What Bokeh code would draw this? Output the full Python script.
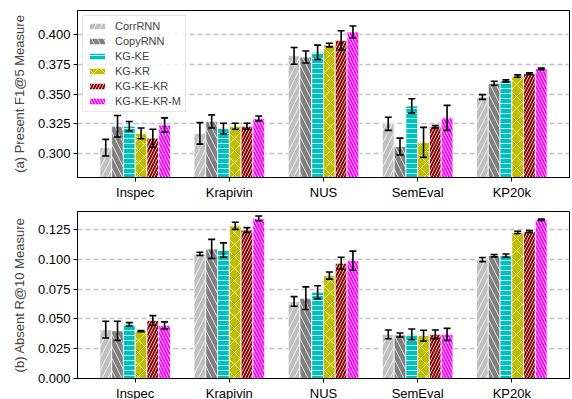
import numpy as np
from bokeh.plotting import figure
from bokeh.layouts import column
from bokeh.models import (ColumnDataSource, Whisker, TeeHead, FixedTicker, Range1d,
                          NumeralTickFormatter, Legend, LegendItem)
from bokeh.embed import file_html
from bokeh.resources import INLINE

datasets = ["Inspec", "Krapivin", "NUS", "SemEval", "KP20k"]
models = ["CorrRNN", "CopyRNN", "KG-KE", "KG-KR", "KG-KE-KR", "KG-KE-KR-M"]

# (a) Present F1@5
f1_corrrnn = [0.305, 0.317, 0.382, 0.325, 0.3475]
f1_copyrnn = [0.323, 0.327, 0.381, 0.306, 0.359]
f1_kgke = [0.323, 0.321, 0.385, 0.340, 0.361]
f1_kgkr = [0.317, 0.323, 0.391, 0.3095, 0.365]
f1_kgkekr = [0.313, 0.323, 0.395, 0.3225, 0.367]
f1_kgkekrm = [0.324, 0.3295, 0.402, 0.330, 0.371]
f1_err_corrrnn = [0.007, 0.009, 0.007, 0.0055, 0.002]
f1_err_copyrnn = [0.009, 0.0055, 0.005, 0.007, 0.0017]
f1_err_kgke = [0.004, 0.0045, 0.006, 0.006, 0.0008]
f1_err_kgkr = [0.0045, 0.0025, 0.0015, 0.0125, 0.001]
f1_err_kgkekr = [0.0075, 0.0025, 0.008, 0.001, 0.0007]
f1_err_kgkekrm = [0.006, 0.002, 0.005, 0.0105, 0.0007]

# (b) Absent R@10
r_corrrnn = [0.041, 0.1045, 0.0646, 0.037, 0.0997]
r_copyrnn = [0.040, 0.1086, 0.0673, 0.0365, 0.103]
r_kgke = [0.0454, 0.1077, 0.0724, 0.037, 0.103]
r_kgkr = [0.0398, 0.128, 0.0863, 0.036, 0.1225]
r_kgkekr = [0.0487, 0.1245, 0.0966, 0.037, 0.1233]
r_kgkekrm = [0.0445, 0.1342, 0.0988, 0.037, 0.1331]
r_err_corrrnn = [0.007, 0.0014, 0.004, 0.0037, 0.0017]
r_err_copyrnn = [0.008, 0.008, 0.0095, 0.0017, 0.001]
r_err_kgke = [0.0014, 0.006, 0.0054, 0.0045, 0.0014]
r_err_kgkr = [0.0005, 0.003, 0.003, 0.0045, 0.001]
r_err_kgkekr = [0.004, 0.002, 0.005, 0.0036, 0.0008]
r_err_kgkekrm = [0.003, 0.002, 0.008, 0.005, 0.0005]

f1_vals = [f1_corrrnn, f1_copyrnn, f1_kgke, f1_kgkr, f1_kgkekr, f1_kgkekrm]
f1_errs = [f1_err_corrrnn, f1_err_copyrnn, f1_err_kgke, f1_err_kgkr, f1_err_kgkekr, f1_err_kgkekrm]
r_vals = [r_corrrnn, r_copyrnn, r_kgke, r_kgkr, r_kgkekr, r_kgkekrm]
r_errs = [r_err_corrrnn, r_err_copyrnn, r_err_kgke, r_err_kgkr, r_err_kgkekr, r_err_kgkekrm]

colors = ["#c0c0c0", "#808080", "#00bfbf", "#bfbf00", "#8b0000", "#ff00ff"]
hatches = ["/", "\\", "-", "x", "/", "\\"]
hatch_scales = [12, 12, 5, 12, 6, 6]

FONT = "Liberation Sans"
BAR_W = 0.125


def make_fig(vals, errs, yr, yticks, ylabel, height, border_top, border_bottom, legend):
    p = figure(width=570, height=height, output_backend="svg", toolbar_location=None,
               x_range=Range1d(-0.6125, 4.6125), y_range=Range1d(*yr),
               min_border_left=77, min_border_right=1, min_border_top=border_top,
               min_border_bottom=border_bottom)
    items = []
    base_x = np.arange(len(datasets))
    for i, m in enumerate(models):
        x = base_x + (i - 2.5) * BAR_W
        v = np.array(vals[i])
        e = np.array(errs[i])
        src = ColumnDataSource(dict(x=x, top=v, upper=v + e, lower=v - e))
        r = p.vbar(x="x", top="top", bottom=yr[0] if yr[0] > 0 else 0, width=BAR_W, source=src,
                   fill_color=colors[i], line_color="white", line_width=0.8,
                   hatch_pattern=hatches[i], hatch_color="white", hatch_alpha=0.75,
                   hatch_scale=hatch_scales[i], hatch_weight=1)
        items.append(LegendItem(label=m, renderers=[r]))
        w = Whisker(base="x", upper="upper", lower="lower", source=src, dimension="height",
                    line_color="black", line_width=1.6, level="annotation",
                    upper_head=TeeHead(size=7, line_color="black", line_width=1.6),
                    lower_head=TeeHead(size=7, line_color="black", line_width=1.6))
        p.add_layout(w)

    p.xaxis.ticker = FixedTicker(ticks=list(range(len(datasets))))
    p.xaxis.major_label_overrides = {i: d for i, d in enumerate(datasets)}
    p.yaxis.ticker = FixedTicker(ticks=yticks)
    p.yaxis.formatter = NumeralTickFormatter(format="0.000")
    for ax in [p.xaxis[0], p.yaxis[0]]:
        ax.major_label_text_font = FONT
        ax.major_label_text_font_size = "13px"
        ax.major_label_text_color = "black"
        ax.axis_line_color = "black"
        ax.major_tick_line_color = "black"
        ax.major_tick_out = 4
        ax.major_tick_in = 0
        ax.minor_tick_line_color = None
        ax.major_label_standoff = 3
    p.yaxis.axis_label = ylabel
    p.yaxis.axis_label_text_font = FONT
    p.yaxis.axis_label_text_font_size = "13px"
    p.yaxis.axis_label_text_font_style = "normal"
    p.yaxis.axis_label_standoff = 8
    p.xgrid.grid_line_color = None
    p.ygrid.ticker = FixedTicker(ticks=yticks)
    p.ygrid.grid_line_color = "#c0c0c0"
    p.ygrid.grid_line_width = 1.4
    p.ygrid.grid_line_dash = "5 3"
    p.outline_line_color = "black"
    p.outline_line_alpha = 1
    p.outline_line_width = 1
    p.background_fill_color = "white"

    if legend:
        lg = Legend(items=items, location="top_left")
        lg.margin = 5
        lg.padding = 4
        lg.spacing = 3
        lg.glyph_width = 20
        lg.glyph_height = 8
        lg.label_height = 12
        lg.label_standoff = 8
        lg.label_text_font = FONT
        lg.label_text_font_size = "11px"
        lg.border_line_color = "#cccccc"
        lg.border_line_width = 1
        lg.background_fill_alpha = 0.8
        p.add_layout(lg, "center")
    return p


p1 = make_fig(f1_vals, f1_errs, (0.28, 0.42), [0.300, 0.325, 0.350, 0.375, 0.400],
              "(a) Present F1@5 Measure", 202, 10, 24, True)
p2 = make_fig(r_vals, r_errs, (0.0, 0.14), [0.000, 0.025, 0.050, 0.075, 0.100, 0.125],
              "(b) Absent R@10 Measure", 202, 9, 26, False)

layout = column(p1, p2, spacing=0)
html = file_html(layout, INLINE)
html = html.replace("</head>", "<style>html, body { overflow: hidden; }</style></head>", 1)
open("out.html", "w").write(html)
